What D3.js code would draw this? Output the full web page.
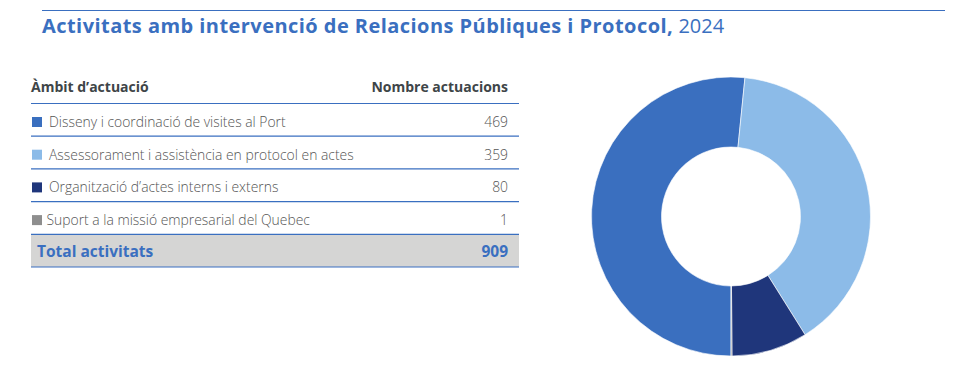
<!DOCTYPE html>
<html>
<head>
<meta charset="utf-8">
<script src="https://cdn.jsdelivr.net/npm/d3@7"></script>
<style>
  body { margin: 0; background: #fff; }
  svg { display: block; font-family: "Open Sans", "Noto Sans", sans-serif; }
</style>
</head>
<body>
<div id="chart"></div>
<script>
// Activitats amb intervenció de Relacions Públiques i Protocol, 2024
const categories = [
  "Disseny i coordinació de visites al Port",
  "Assessorament i assistència en protocol en actes",
  "Organització d’actes interns i externs",
  "Suport a la missió empresarial del Quebec",
];
const values = [469, 359, 80, 1];
const totalLabel = "Total activitats";
const totalValue = 909;
const headers = ["Àmbit d’actuació", "Nombre actuacions"];

const width = 957;
const height = 375;
const blue = "#3a6fc0";

const color = d3
  .scaleOrdinal()
  .domain(categories)
  .range(["#3a6fbf", "#8cbbe8", "#1f367b", "#8e8e8e"]);

const svg = d3
  .select("#chart")
  .append("svg")
  .attr("width", width)
  .attr("height", height);

// title
svg
  .append("line")
  .attr("x1", 42)
  .attr("x2", 945)
  .attr("y1", 10.5)
  .attr("y2", 10.5)
  .attr("stroke", blue)
  .attr("stroke-width", 1.2);

const title = svg
  .append("text")
  .attr("x", 42)
  .attr("y", 32.5)
  .attr("fill", blue)
  .style("font-size", "20px");
title
  .append("tspan")
  .style("font-weight", 700)
  .style("letter-spacing", "0.45px")
  .text("Activitats amb intervenció de Relacions Públiques i Protocol,");
title.append("tspan").style("font-weight", 400).text(" 2024");

// table
const tableLeft = 31;
const tableRight = 519;
const numRight = 508;

const rowY = d3
  .scaleBand()
  .domain([...categories, totalLabel])
  .range([103.5, 267]);

svg
  .append("text")
  .attr("x", tableLeft)
  .attr("y", 92)
  .attr("fill", "#3e4548")
  .style("font-size", "14px")
  .style("font-weight", 700)
  .text(headers[0]);

svg
  .append("text")
  .attr("x", numRight)
  .attr("y", 92)
  .attr("text-anchor", "end")
  .attr("fill", "#3e4548")
  .style("font-size", "14px")
  .style("font-weight", 700)
  .text(headers[1]);

svg
  .append("rect")
  .attr("x", tableLeft)
  .attr("y", rowY(totalLabel))
  .attr("width", tableRight - tableLeft)
  .attr("height", rowY.bandwidth())
  .attr("fill", "#d5d5d4");

const rows = svg
  .selectAll(".row")
  .data(categories)
  .join("g")
  .attr("class", "row")
  .attr("transform", (d) => `translate(0,${rowY(d)})`);

rows
  .append("rect")
  .attr("x", 32)
  .attr("y", 13.5)
  .attr("width", 10)
  .attr("height", 10)
  .attr("fill", (d) => color(d));

rows
  .append("text")
  .attr("x", (d, i) => (i === 3 ? 46.5 : 49))
  .attr("y", 23.5)
  .attr("fill", "#555")
  .style("font-size", "13.9px")
  .style("font-weight", 300)
  .text((d) => d);

rows
  .append("text")
  .attr("x", numRight)
  .attr("y", 23.5)
  .attr("text-anchor", "end")
  .attr("fill", "#555")
  .style("font-size", "13.9px")
  .style("font-weight", 300)
  .text((d, i) => values[i]);

svg
  .append("text")
  .attr("x", 37)
  .attr("y", rowY(totalLabel) + 23)
  .attr("fill", blue)
  .style("font-size", "15.5px")
  .style("font-weight", 700)
  .text(totalLabel);

svg
  .append("text")
  .attr("x", numRight)
  .attr("y", rowY(totalLabel) + 23)
  .attr("text-anchor", "end")
  .attr("fill", blue)
  .style("font-size", "15.5px")
  .style("font-weight", 700)
  .text(totalValue);

const lineYs = [rowY.range()[0], ...rowY.domain().map((d) => rowY(d) + rowY.bandwidth())];
svg
  .selectAll(".rule")
  .data(lineYs)
  .join("line")
  .attr("class", "rule")
  .attr("x1", tableLeft)
  .attr("x2", tableRight)
  .attr("y1", (d) => d)
  .attr("y2", (d) => d)
  .attr("stroke", blue)
  .attr("stroke-width", 1.2);

// donut
const pie = d3
  .pie()
  .sort(null)
  .value((d) => d.value)
  .startAngle(Math.PI)
  .endAngle(3 * Math.PI);

const arc = d3.arc().innerRadius(69.5).outerRadius(139.5);

const donut = svg.append("g").attr("transform", "translate(731,216.5)");

donut
  .selectAll("path")
  .data(pie(categories.map((c, i) => ({ name: c, value: values[i] }))))
  .join("path")
  .attr("d", arc)
  .attr("fill", (d) => color(d.data.name))
  .attr("stroke", "#fff")
  .attr("stroke-width", 0.6);
</script>
</body>
</html>
